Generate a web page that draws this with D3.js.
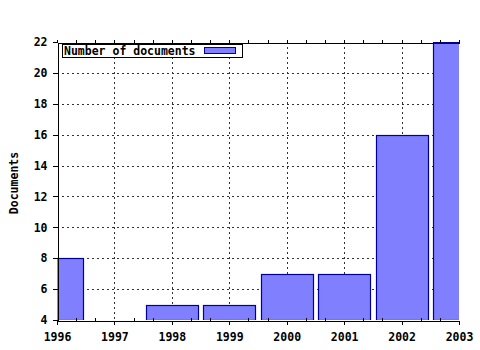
<!DOCTYPE html>
<html>
<head>
<meta charset="utf-8">
<script src="https://cdn.jsdelivr.net/npm/d3@7"></script>
<style>
  body { margin: 0; background: #fff; }
  text { font-family: "DejaVu Sans Mono", monospace; font-weight: bold; font-size: 11.5px; fill: #000; }
</style>
</head>
<body>
<svg id="chart" width="480" height="350"></svg>
<script>
// data
const years = [1996, 1997, 1998, 1999, 2000, 2001, 2002, 2003];
const documents = [8, null, 5, 5, 7, 7, 16, 22];
const yTicks = [4, 6, 8, 10, 12, 14, 16, 18, 20, 22];
const seriesName = "Number of documents";

const plotL = 57, plotR = 459, plotT = 42, plotB = 320;
const svg = d3.select("#chart");

const x = d3.scaleLinear().domain([1996, 2003]).range([plotL, plotR]);
const y = d3.scaleLinear().domain([4, 22]).range([plotB, plotT]);
const step = x(1997) - x(1996);
const bw = step * 0.9;

svg.append("clipPath").attr("id", "plot")
  .append("rect").attr("x", plotL).attr("y", plotT).attr("width", plotR - plotL).attr("height", plotB - plotT);

// grid
const grid = svg.append("g").attr("stroke", "#333").attr("stroke-dasharray", "2,3").attr("stroke-width", 1);
grid.selectAll(".gx").data(years.slice(1, -1)).join("line")
  .attr("x1", d => Math.round(x(d)) + 0.5).attr("x2", d => Math.round(x(d)) + 0.5)
  .attr("y1", plotT).attr("y2", plotB);
grid.selectAll(".gy").data(yTicks.slice(1, -1)).join("line")
  .attr("x1", plotL).attr("x2", plotR)
  .attr("y1", d => Math.round(y(d)) + 0.5).attr("y2", d => Math.round(y(d)) + 0.5);

// bars
svg.append("g").attr("clip-path", "url(#plot)")
  .selectAll("rect").data(years.map((yr, i) => ({ yr, v: documents[i] })).filter(d => d.v != null))
  .join("rect")
  .attr("x", d => Math.round(x(d.yr) - bw / 2) + 0.5)
  .attr("y", d => Math.round(y(d.v)) + 0.5)
  .attr("width", Math.round(bw))
  .attr("height", d => Math.round(y(4) - y(d.v)))
  .attr("fill", "#8080ff").attr("stroke", "#000099").attr("stroke-width", 1.2);

// minor ticks at thirds of a year
const minor = d3.range(0, 22).map(i => 1996 + i / 3).filter(v => Math.abs(v - Math.round(v)) > 0.01);

// axes
const yAxis = svg.append("g").attr("transform", `translate(${plotL + 0.5},0)`)
  .call(d3.axisLeft(y).tickValues(yTicks).tickSize(5).tickPadding(5).tickSizeOuter(0));
const xAxis = svg.append("g").attr("transform", `translate(0,${plotB + 0.5})`)
  .call(d3.axisBottom(x).tickValues(years).tickFormat(d3.format("d")).tickSize(4).tickPadding(6).tickSizeOuter(0));
const xMinor = svg.append("g").attr("transform", `translate(0,${plotB + 0.5})`)
  .call(d3.axisBottom(x).tickValues(minor).tickFormat("").tickSize(-3).tickSizeOuter(0));
const xTop = svg.append("g").attr("transform", `translate(0,${plotT + 0.5})`)
  .call(d3.axisTop(x).tickValues(minor.concat(years)).tickFormat("").tickSize(3).tickSizeOuter(0));
[yAxis, xAxis, xMinor, xTop].forEach(g => {
  g.attr("font-size", null).attr("font-family", null);
  g.selectAll("path, line").attr("stroke", "#000").attr("shape-rendering", "crispEdges");
});
xAxis.selectAll("text").attr("dy", "0.9em");

// y title
svg.append("text").attr("transform", `translate(18,${(plotT + plotB) / 2 + 2}) rotate(-90)`)
  .attr("text-anchor", "middle").text("Documents");

// legend
const lg = svg.append("g");
lg.append("rect").attr("x", 62.5).attr("y", 44.5).attr("width", 180).attr("height", 13)
  .attr("fill", "#fff").attr("stroke", "#000");
lg.append("text").attr("x", 64).attr("y", 55).text(seriesName);
lg.append("rect").attr("x", 204.5).attr("y", 47.5).attr("width", 31).attr("height", 6)
  .attr("fill", "#8080ff").attr("stroke", "#000099");
</script>
</body>
</html>
